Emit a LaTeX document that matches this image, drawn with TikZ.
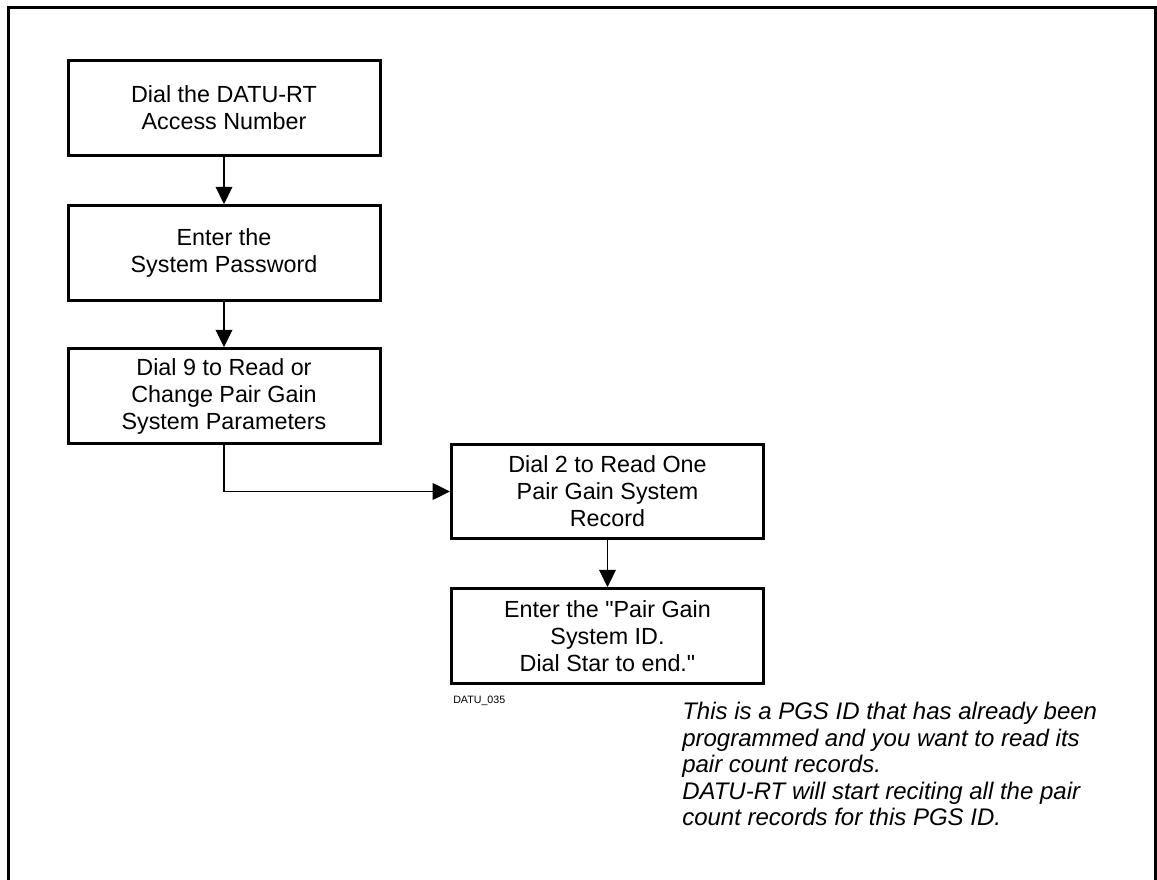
\documentclass[tikz,border=0pt]{standalone}
\usepackage{fontspec}
\setmainfont{Liberation Sans}[Ligatures=TeXOff]
\usetikzlibrary{arrows, arrows.meta}

\tikzset{
  stepbox/.style={draw, rectangle, line width=2.25pt, minimum width=234pt,
    minimum height=71pt, inner sep=0pt, align=center,
    font=\fontsize{17.5}{20.25}\selectfont},
  flow/.style={line width=1.1pt, -{Triangle[width=12.5pt,length=13pt]}}
}

\begin{document}
\begin{tikzpicture}[x=0.75pt, y=-0.75pt]
            \useasboundingbox (0,0) rectangle (1157,880);
            \clip (0,0) rectangle (1157,880);
            % Frame
            \draw[line width=2.25pt] (8,900) -- (8,8) -- (1155,8) -- (1155,900);
            % Boxes
            \node[stepbox] (dial) at (224,108) {Dial the DATU-RT\\Access Number};
            \node[stepbox] (pass) at (224,253) {Enter the\\System Password};
            \node[stepbox] (nine) at (224,396) {Dial 9 to Read or\\Change Pair Gain\\System Parameters};
            \node[stepbox] (two) at (607.5,491.5) {Dial 2 to Read One\\Pair Gain System\\Record};
            \node[stepbox] (pgsid) at (607.5,636) {Enter the "Pair Gain\\System ID.\\Dial Star to end."};
            % Arrows
            \draw[flow] (dial) -- (pass);
            \draw[flow] (pass) -- (nine);
            \draw[flow] (nine.south) |- (two.west);
            \draw[flow] (two) -- (pgsid);
            % Labels
            \node[anchor=west, inner sep=0pt, font=\fontsize{8}{9}\selectfont] (tag) at (453,701) {DATU\_035};
            \node[anchor=north west, inner sep=0pt, align=left,
              font=\fontsize{18}{19.9}\selectfont\itshape] (note) at (682,702)
              {This is a PGS ID that has already been\\programmed and you want to read its\\pair count records.\\DATU-RT will start reciting all the pair\\count records for this PGS ID.};
        \end{tikzpicture}
\end{document}
